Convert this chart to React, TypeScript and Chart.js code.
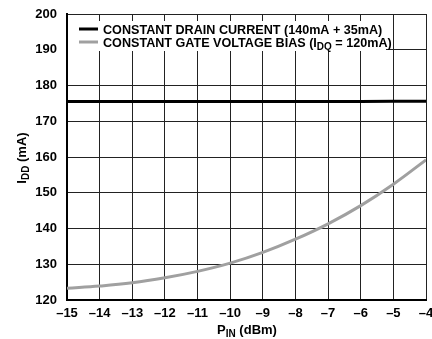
import { useEffect, useRef } from "react";
import { Chart, registerables } from "chart.js";

Chart.register(...registerables);

const xValues = [-15, -14, -13, -12, -11, -10, -9, -8, -7, -6, -5, -4];
const drainCurrent = [175.5, 175.5, 175.5, 175.5, 175.5, 175.5, 175.5, 175.5, 175.5, 175.5, 175.6, 175.6];
const gateBias = [123.3, 123.9, 124.8, 126.2, 128.0, 130.3, 133.3, 137.0, 141.3, 146.4, 152.4, 159.2];
const legendParts = [
  [{ t: "CONSTANT DRAIN CURRENT (140mA + 35mA)", sub: false }],
  [
    { t: "CONSTANT GATE VOLTAGE BIAS (I", sub: false },
    { t: "DQ", sub: true },
    { t: " = 120mA)", sub: false },
  ],
];
const yTitle = [
  { t: "I", sub: false },
  { t: "DD", sub: true },
  { t: " (mA)", sub: false },
];
const xTitle = [
  { t: "P", sub: false },
  { t: "IN", sub: true },
  { t: " (dBm)", sub: false },
];

const FONT = '"Liberation Sans", Arial, Helvetica, sans-serif';
const BLACK = "#000000";
const GRAY = "#a0a0a0";

type Part = { t: string; sub: boolean };

function drawRich(ctx: CanvasRenderingContext2D, parts: Part[], x: number, y: number, align: "left" | "center", size: number) {
  const main = `bold ${size}px ${FONT}`;
  const small = `bold ${Math.round(size * 0.78)}px ${FONT}`;
  let total = 0;
  for (const p of parts) {
    ctx.font = p.sub ? small : main;
    total += ctx.measureText(p.t).width;
  }
  let cx = align === "center" ? x - total / 2 : x;
  ctx.textBaseline = "alphabetic";
  ctx.textAlign = "left";
  for (const p of parts) {
    ctx.font = p.sub ? small : main;
    ctx.fillText(p.t, cx, p.sub ? y + 3 : y);
    cx += ctx.measureText(p.t).width;
  }
}

const overlayPlugin = {
  id: "overlay",
  afterDatasetsDraw(chart: any) {
    const ctx: CanvasRenderingContext2D = chart.ctx;
    const area = chart.chartArea;
    ctx.save();
    ctx.fillStyle = "#ffffff";
    ctx.fillRect(area.left + 1, 21, 386 - area.left - 1, 30);
    const colors = [BLACK, GRAY];
    const ys = [29, 42];
    for (let i = 0; i < 2; i++) {
      ctx.strokeStyle = colors[i];
      ctx.lineWidth = 3;
      ctx.beginPath();
      ctx.moveTo(79, ys[i]);
      ctx.lineTo(98, ys[i]);
      ctx.stroke();
      ctx.fillStyle = "#000";
      drawRich(ctx, legendParts[i], 103, ys[i] + 4.5, "left", 12.6);
    }
    ctx.restore();
  },
  afterDraw(chart: any) {
    const ctx: CanvasRenderingContext2D = chart.ctx;
    ctx.save();
    ctx.fillStyle = "#000";
    drawRich(ctx, xTitle, 247, 334, "center", 13);
    ctx.translate(26, 158);
    ctx.rotate(-Math.PI / 2);
    drawRich(ctx, yTitle, 0, 0, "center", 13);
    ctx.restore();
  },
};

export default function App() {
  const ref = useRef<HTMLCanvasElement>(null);
  useEffect(() => {
    document.body.style.margin = "0";
    const chart = new Chart(ref.current!, {
      type: "line",
      data: {
        datasets: [
          {
            label: "CONSTANT DRAIN CURRENT (140mA + 35mA)",
            data: xValues.map((x, i) => ({ x, y: drainCurrent[i] })),
            borderColor: BLACK,
            borderWidth: 3,
            pointRadius: 0,
            tension: 0,
          },
          {
            label: "CONSTANT GATE VOLTAGE BIAS (IDQ = 120mA)",
            data: xValues.map((x, i) => ({ x, y: gateBias[i] })),
            borderColor: GRAY,
            borderWidth: 3,
            pointRadius: 0,
            tension: 0.4,
          },
        ],
      },
      options: {
        animation: false,
        responsive: false,
        devicePixelRatio: 1,
        layout: { padding: { top: 14, right: 6, left: 0, bottom: 0 } },
        plugins: { legend: { display: false }, tooltip: { enabled: false } },
        scales: {
          x: {
            type: "linear",
            min: -15,
            max: -4,
            afterFit: (s: any) => { s.height = 39; s.paddingLeft = 0; s.paddingRight = 0; },
            ticks: {
              stepSize: 1,
              color: "#000",
              font: { family: FONT, size: 13, weight: "bold" },
              padding: 6,
              maxRotation: 0,
              callback: (v: any) => String(v).replace("-", "\u2013"),
            },
            grid: { color: "#222", lineWidth: 1, drawTicks: false },
            border: { color: "#000", width: 2 },
          },
          y: {
            min: 120,
            max: 200,
            afterFit: (s: any) => { s.width = 67; s.paddingTop = 0; s.paddingBottom = 0; },
            ticks: {
              stepSize: 10,
              color: "#000",
              font: { family: FONT, size: 13, weight: "bold" },
              padding: 10,
            },
            grid: { color: "#222", lineWidth: 1, drawTicks: false },
            border: { color: "#000", width: 2 },
          },
        },
      },
      plugins: [overlayPlugin],
    } as any);
    return () => chart.destroy();
  }, []);
  return <canvas ref={ref} width={432} height={339} style={{ display: "block" }} />;
}
